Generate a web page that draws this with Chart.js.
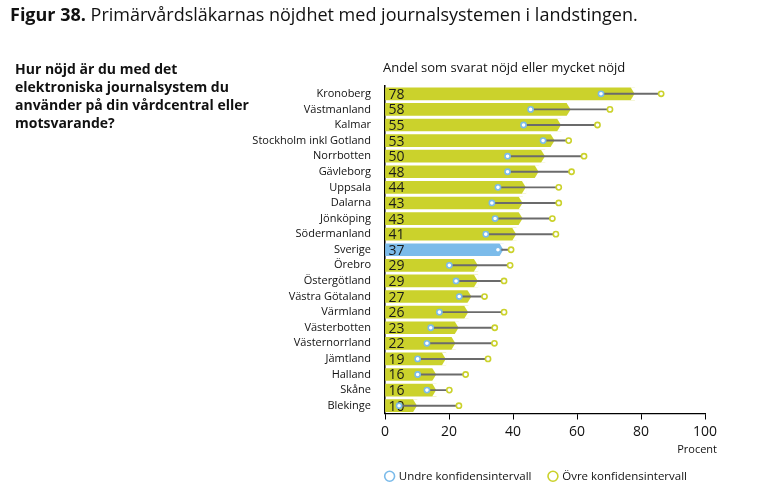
<!DOCTYPE html>
<html>
<head>
<meta charset="utf-8">
<script src="https://cdn.jsdelivr.net/npm/chart.js@4.4.1/dist/chart.umd.min.js"></script>
<style>
  body { margin: 0; background: #fff; font-family: "Open Sans", Lato, sans-serif; }
  #wrap { position: relative; width: 775px; height: 495px; }
  #chart { position: absolute; left: 0; top: 0; }
  .headline { position: absolute; left: 10px; top: 2px; font-size: 18px; color: #111; }
  .question { position: absolute; left: 15px; top: 60px; font-size: 14px; font-weight: bold; line-height: 18px; color: #111; }
  .axishead { position: absolute; left: 383px; top: 58px; font-size: 13px; color: #111; }
</style>
</head>
<body>
<div id="wrap">
  <canvas id="chart" width="775" height="495"></canvas>
  <div class="headline"><b>Figur 38.</b> Primärvårdsläkarnas nöjdhet med journalsystemen i landstingen.</div>
  <div class="question">Hur nöjd är du med det<br>elektroniska journalsystem du<br>använder på din vårdcentral eller<br>motsvarande?</div>
  <div class="axishead">Andel som svarat nöjd eller mycket nöjd</div>
</div>
<script>
const regions = ['Kronoberg', 'Västmanland', 'Kalmar', 'Stockholm inkl Gotland', 'Norrbotten', 'Gävleborg',
  'Uppsala', 'Dalarna', 'Jönköping', 'Södermanland', 'Sverige', 'Örebro', 'Östergötland', 'Västra Götaland',
  'Värmland', 'Västerbotten', 'Västernorrland', 'Jämtland', 'Halland', 'Skåne', 'Blekinge'];
const satisfied = [78, 58, 55, 53, 50, 48, 44, 43, 43, 41, 37, 29, 29, 27, 26, 23, 22, 19, 16, 16, 10];
const lowerCI = [67.5, 45.5, 43.3, 49.4, 38.3, 38.3, 35.3, 33.4, 34.4, 31.5, 35.3, 20.1, 22.2, 23.2, 17.0, 14.3, 13.1, 10.2, 10.2, 13.1, 4.4];
const upperCI = [86.3, 70.3, 66.4, 57.4, 62.2, 58.3, 54.3, 54.3, 52.3, 53.4, 39.4, 39.1, 37.2, 31.1, 37.2, 34.3, 34.2, 32.2, 25.2, 20.1, 23.1];
const xTicks = [0, 20, 40, 60, 80, 100];

const green = '#cbd22c';
const blue = '#7bbbea';
const barColors = regions.map(r => r === 'Sverige' ? blue : green);
const ciRanges = lowerCI.map((lo, i) => [lo, upperCI[i]]);

const FONT = '"Open Sans", Lato, sans-serif';

// chevron tip + value label on each main bar
const barDecor = {
  id: 'barDecor',
  afterDatasetDraw(chart, args) {
    if (args.index !== 3) return;
    const c = chart.ctx;
    c.save();
    args.meta.data.forEach((bar, i) => {
      const h = bar.height, top = bar.y - h / 2, bot = bar.y + h / 2, x = bar.x;
      c.fillStyle = '#fff';
      c.beginPath();
      c.moveTo(x - 4, top - 0.5); c.lineTo(x + 1, top - 0.5); c.lineTo(x + 1, bar.y); c.lineTo(x, bar.y);
      c.closePath(); c.fill();
      c.beginPath();
      c.moveTo(x - 4, bot + 0.5); c.lineTo(x + 1, bot + 0.5); c.lineTo(x + 1, bar.y); c.lineTo(x, bar.y);
      c.closePath(); c.fill();
      c.fillStyle = '#1a1a1a';
      c.font = '14px ' + FONT;
      c.textBaseline = 'middle';
      c.textAlign = 'left';
      c.fillText(String(satisfied[i]), bar.base + 3, bar.y + 1);
    });
    c.restore();
  }
};

// "Procent" unit under the last x tick
const unitLabel = {
  id: 'unitLabel',
  afterDraw(chart) {
    const xs = chart.scales.x;
    const c = chart.ctx;
    c.save();
    c.fillStyle = '#111';
    c.font = '11px ' + FONT;
    c.textAlign = 'right';
    c.textBaseline = 'middle';
    c.fillText('Procent', xs.getPixelForValue(xTicks[xTicks.length - 1]) + 12, xs.bottom - 3);
    c.restore();
  }
};

new Chart(document.getElementById('chart'), {
  type: 'bar',
  data: {
    labels: regions,
    datasets: [
      {
        type: 'line', label: 'Undre konfidensintervall', data: lowerCI, indexAxis: 'y',
        showLine: false, pointStyle: 'circle', pointRadius: 2.6, pointBorderWidth: 1.6,
        pointBackgroundColor: '#fff', pointBorderColor: blue,
        backgroundColor: '#fff', borderColor: blue, borderWidth: 1.6
      },
      {
        type: 'line', label: 'Övre konfidensintervall', data: upperCI, indexAxis: 'y',
        showLine: false, pointStyle: 'circle', pointRadius: 2.6, pointBorderWidth: 1.6,
        pointBackgroundColor: '#fff', pointBorderColor: green,
        backgroundColor: '#fff', borderColor: green, borderWidth: 1.6
      },
      {
        label: 'ci', data: ciRanges, backgroundColor: '#6b6b6b',
        barThickness: 1.3, grouped: false
      },
      {
        label: 'andel', data: satisfied, backgroundColor: barColors,
        barThickness: 12, grouped: false
      }
    ]
  },
  options: {
    indexAxis: 'y',
    responsive: false,
    animation: false,
    layout: { padding: { top: 86, left: 0, right: 70, bottom: 3 } },
    plugins: {
      tooltip: { enabled: false },
      legend: {
        position: 'bottom',
        align: 'end',
        labels: {
          filter: item => item.datasetIndex < 2,
          usePointStyle: true,
          boxWidth: 7, boxHeight: 7,
          padding: 18,
          color: '#111',
          font: { family: FONT, size: 11.5 }
        }
      }
    },
    scales: {
      x: {
        min: 0, max: 100,
        afterBuildTicks: s => { s.ticks = xTicks.map(v => ({ value: v })); },
        afterFit: s => { s.height = 39; },
        grid: { drawOnChartArea: false, drawTicks: true, tickLength: 6, color: '#000', lineWidth: 1 },
        border: { display: true, color: '#000', width: 1.2 },
        ticks: { color: '#111', font: { family: FONT, size: 14 }, padding: 4, maxRotation: 0 }
      },
      y: {
        afterFit: s => { s.width = 385; },
        grid: { display: false },
        border: { display: true, color: '#000', width: 1.5 },
        ticks: { autoSkip: false, color: '#111', font: { family: FONT, size: 11 }, padding: 6 }
      }
    }
  },
  plugins: [barDecor, unitLabel]
});
</script>
</body>
</html>
